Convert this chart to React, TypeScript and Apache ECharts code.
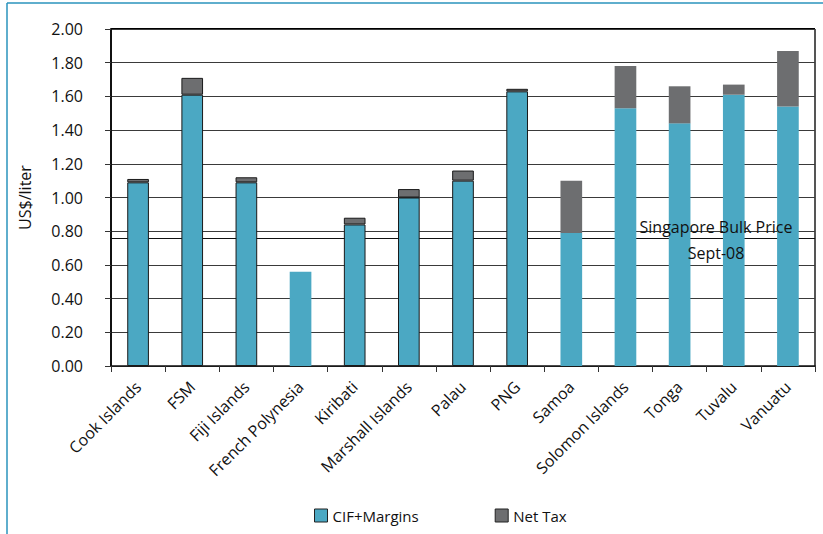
import React, { useEffect, useRef } from "react";
import * as echarts from "echarts";

const categories = [
  "Cook Islands", "FSM", "Fiji Islands", "French Polynesia", "Kiribati",
  "Marshall Islands", "Palau", "PNG", "Samoa", "Solomon Islands",
  "Tonga", "Tuvalu", "Vanuatu",
];
const cifMargins = [1.09, 1.61, 1.09, 0.56, 0.84, 1.0, 1.1, 1.63, 0.79, 1.53, 1.44, 1.61, 1.54];
const netTax = [0.02, 0.1, 0.03, 0, 0.04, 0.05, 0.06, 0.015, 0.31, 0.25, 0.22, 0.06, 0.33];
const outlined = [true, true, true, false, true, true, true, true, false, false, false, false, false];
const singaporeBulkPrice = 0.76;
const singaporeLabel = ["Singapore Bulk Price", "Sept-08"];
const yTicks = { min: 0, max: 2, interval: 0.2 };

const TEAL = "#4ba8c3";
const GREY = "#6d6e70";
const FONT = "'Open Sans', 'Noto Sans', sans-serif";

export default function App() {
  const ref = useRef<HTMLDivElement>(null);
  useEffect(() => {
    if (!ref.current) return;
    const chart = echarts.init(ref.current, null, { renderer: "svg" });
    chart.setOption({
      animation: false,
      textStyle: { fontFamily: FONT, color: "#111" },
      grid: { left: 111, right: 8, top: 29, bottom: 168 },
      legend: {
        bottom: 6,
        left: 309,
        itemGap: 76,
        itemWidth: 13,
        itemHeight: 13,
        icon: "rect",
        textStyle: { fontSize: 15, color: "#111", fontFamily: FONT },
        data: [
          { name: "CIF+Margins", itemStyle: { borderColor: "#222", borderWidth: 1 } },
          { name: "Net Tax", itemStyle: { borderColor: "#222", borderWidth: 1 } },
        ],
      },
      xAxis: {
        type: "category",
        data: categories,
        axisLine: { lineStyle: { color: "#111", width: 1.5 } },
        axisTick: { show: true, length: 6, lineStyle: { color: "#333" } },
        axisLabel: { rotate: 45, fontSize: 16, color: "#111", margin: 18, interval: 0 },
      },
      yAxis: {
        type: "value",
        min: yTicks.min,
        max: yTicks.max,
        interval: yTicks.interval,
        name: "US$/liter",
        nameLocation: "middle",
        nameGap: 78,
        nameTextStyle: { fontSize: 16, color: "#111" },
        axisLine: { show: true, lineStyle: { color: "#111", width: 2 } },
        axisTick: { show: true, length: 6, lineStyle: { color: "#333" } },
        axisLabel: {
          fontSize: 16,
          color: "#111",
          margin: 28,
          formatter: (v: number) => v.toFixed(2),
        },
        splitLine: { lineStyle: { color: "#3a3a3a", width: 1 } },
      },
      graphic: [
        { type: "line", z: 0, shape: { x1: 7, y1: 3, x2: 823, y2: 3 }, style: { stroke: "#2a93bd", lineWidth: 1.5 } },
        { type: "line", z: 0, shape: { x1: 7, y1: 3, x2: 7, y2: 534 }, style: { stroke: "#2a93bd", lineWidth: 1.5 } },
        { type: "line", z: 0, shape: { x1: 111, y1: 29, x2: 815, y2: 29 }, style: { stroke: "#000", lineWidth: 2 } },
        { type: "line", z: 0, shape: { x1: 815, y1: 29, x2: 815, y2: 366 }, style: { stroke: "#555", lineWidth: 2 } },
        {
          type: "text",
          z: 100,
          x: 716,
          y: 240,
          style: {
            text: singaporeLabel.join("\n"),
            fontSize: 16,
            fontFamily: FONT,
            fill: "#111",
            align: "center",
            verticalAlign: "middle",
            lineHeight: 26,
          },
        },
      ],
      series: [
        {
          name: "Singapore Bulk Price",
          type: "line",
          z: 1,
          data: [],
          markLine: {
            silent: true,
            z: 1,
            symbol: "none",
            label: { show: false },
            lineStyle: { color: "#111", type: "solid", width: 1 },
            data: [{ yAxis: singaporeBulkPrice }],
          },
        },
        {
          name: "CIF+Margins",
          type: "bar",
          stack: "total",
          z: 3,
          barWidth: "40%",
          itemStyle: { color: TEAL },
          data: cifMargins.map((v, i) => ({
            value: v,
            itemStyle: outlined[i] ? { borderColor: "#1a1a1a", borderWidth: 1 } : {},
          })),
        },
        {
          name: "Net Tax",
          type: "bar",
          stack: "total",
          z: 3,
          barWidth: "40%",
          itemStyle: { color: GREY },
          data: netTax.map((v, i) => ({
            value: v,
            itemStyle: outlined[i] ? { borderColor: "#1a1a1a", borderWidth: 1 } : {},
          })),
        },
      ],
    });
    return () => chart.dispose();
  }, []);
  return <div ref={ref} style={{ width: 823, height: 534, position: "absolute", left: 0, top: 0, background: "#fff" }} />;
}
